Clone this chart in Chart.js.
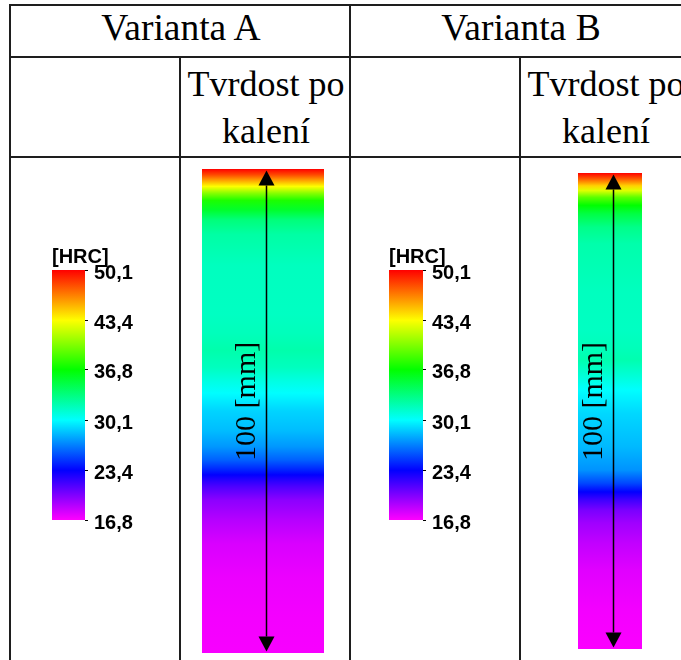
<!DOCTYPE html>
<html>
<head>
<meta charset="utf-8">
<script src="https://cdn.jsdelivr.net/npm/chart.js@4.4.1/dist/chart.umd.min.js"></script>
<style>
  html, body { margin: 0; padding: 0; background: #fff; }
  body { width: 681px; height: 660px; position: relative; overflow: hidden; }
  .ln { position: absolute; background: #1e1e1e; }
  .tx { position: absolute; width: 400px; text-align: center; white-space: nowrap;
        font: 36px "Liberation Serif", "Times New Roman", serif; line-height: 36px; color: #000; }
  .tx.big { font-size: 37.5px; }
  canvas { position: absolute; }
</style>
</head>
<body>
  <!-- table rules -->
  <div class="ln" style="left:9px;top:4px;width:672px;height:2px"></div>
  <div class="ln" style="left:9px;top:56px;width:672px;height:2px"></div>
  <div class="ln" style="left:9px;top:156px;width:672px;height:2px"></div>
  <div class="ln" style="left:9px;top:4px;width:2px;height:656px"></div>
  <div class="ln" style="left:179px;top:56px;width:2px;height:604px"></div>
  <div class="ln" style="left:349px;top:4px;width:2px;height:656px"></div>
  <div class="ln" style="left:519px;top:56px;width:2px;height:604px"></div>

  <!-- table headings -->
  <div class="tx big" style="left:-19px;top:10px">Varianta A</div>
  <div class="tx big" style="left:321px;top:10px">Varianta B</div>
  <div class="tx" style="left:66px;top:66px">Tvrdost po</div>
  <div class="tx" style="left:66px;top:113px">kalení</div>
  <div class="tx" style="left:406px;top:66px">Tvrdost po</div>
  <div class="tx" style="left:406px;top:113px">kalení</div>

  <canvas id="scaleA" width="110" height="304" style="left:40px;top:236px"></canvas>
  <canvas id="profileA" width="150" height="500" style="left:190px;top:160px"></canvas>
  <canvas id="scaleB" width="110" height="304" style="left:378px;top:236px"></canvas>
  <canvas id="profileB" width="121" height="500" style="left:560px;top:160px"></canvas>

<script>
// Hardness colour scale (HRC): tick values and their printed labels
const scaleTicks  = [16.8, 23.4, 30.1, 36.8, 43.4, 50.1];
const scaleLabels = ['16,8', '23,4', '30,1', '36,8', '43,4', '50,1'];
const scaleTitle  = '[HRC]';

// Hardness after quenching along the part length (mm from the top face), variant A
const depthA = [0, 1.2, 2.4, 3.6, 5, 6.5, 8.5, 10.5, 13.5, 20, 30, 34, 37.5, 41, 44, 46.3,
                50, 54, 57.4, 60.1, 62, 63.2, 64.5, 65.7, 68.4, 72.6, 77.4, 84.3, 92, 100];
const hrcA   = [50.1, 48.2, 45.8, 43.4, 40.3, 37.5, 35.6, 33.6, 32.5, 31.8, 31.7, 31.9, 32.3, 31.8, 30.8, 30.1,
                29.0, 28.4, 27.4, 26.0, 24.5, 23.4, 22.3, 21.4, 19.8, 18.7, 17.8, 17.3, 17.1, 17.0];

// Variant B
const depthB = [0, 1.3, 2.7, 3.7, 5.1, 6.8, 8.6, 11.4, 14.9, 25, 33, 36.5, 39.3, 42.8, 45.6,
                50.5, 57.5, 62.4, 65.2, 67, 68.6, 70.8, 73.5, 77.8, 83.4, 91.8, 100];
const hrcB   = [50.1, 47.6, 44.6, 42.6, 39.2, 36.8, 35.0, 33.2, 32.3, 31.8, 31.7, 31.9, 32.2, 31.1, 30.1,
                29.1, 28.3, 27.3, 25.3, 23.4, 21.9, 20.3, 19.3, 18.4, 17.6, 17.1, 16.9];

const lengthMm    = 100;
const lengthLabel = '100 [mm]';

const HMIN = scaleTicks[0];
const HMAX = scaleTicks[scaleTicks.length - 1];

// rainbow map: magenta (soft) -> blue -> cyan -> green -> yellow -> red (hard)
function hrcColor(v) {
  const t = Math.min(1, Math.max(0, (v - HMIN) / (HMAX - HMIN)));
  return `hsl(${(300 * (1 - t)).toFixed(2)},100%,50%)`;
}

function verticalFill(stopValues, stopColors, from, to) {
  return (ctx) => {
    const chart = ctx.chart;
    if (!chart.chartArea) return stopColors[0];
    const y = chart.scales.y;
    const y0 = y.getPixelForValue(from), y1 = y.getPixelForValue(to);
    const g = chart.ctx.createLinearGradient(0, y0, 0, y1);
    stopValues.forEach((v, i) => {
      const f = (y.getPixelForValue(v) - y0) / (y1 - y0);
      g.addColorStop(Math.min(1, Math.max(0, f)), stopColors[i]);
    });
    return g;
  };
}

// double-headed dimension arrow with its length label
const dimensionArrow = {
  id: 'dimensionArrow',
  afterDatasetsDraw(chart) {
    const { ctx, scales: { y } } = chart;
    const bar = chart.getDatasetMeta(0).data[0];
    const x = bar.x + 3.5;
    const top = y.getPixelForValue(0) + 1.5;
    const bot = y.getPixelForValue(lengthMm) - 1.5;
    const hw = 8, hl = 15;
    ctx.save();
    ctx.strokeStyle = '#000';
    ctx.fillStyle = '#000';
    ctx.lineWidth = 1.5;
    ctx.beginPath(); ctx.moveTo(x, top + hl); ctx.lineTo(x, bot - hl); ctx.stroke();
    ctx.beginPath(); ctx.moveTo(x, top); ctx.lineTo(x - hw, top + hl); ctx.lineTo(x + hw, top + hl); ctx.closePath(); ctx.fill();
    ctx.beginPath(); ctx.moveTo(x, bot); ctx.lineTo(x - hw, bot - hl); ctx.lineTo(x + hw, bot - hl); ctx.closePath(); ctx.fill();
    ctx.translate(x - 12, y.getPixelForValue(48));
    ctx.rotate(-Math.PI / 2);
    ctx.font = '30px "Liberation Serif", "Times New Roman", serif';
    ctx.textAlign = 'center';
    ctx.textBaseline = 'alphabetic';
    ctx.fillText(lengthLabel, 0, 0);
    ctx.restore();
  }
};

// unit caption above the colour bar
const scaleCaption = {
  id: 'scaleCaption',
  afterDraw(chart) {
    const { ctx, chartArea } = chart;
    ctx.save();
    ctx.font = 'bold 20px "Liberation Sans", Arial, sans-serif';
    ctx.fillStyle = '#000';
    ctx.textAlign = 'left';
    ctx.textBaseline = 'alphabetic';
    ctx.fillText(scaleTitle, chartArea.left, chartArea.top - 7);
    ctx.restore();
  }
};

const common = {
  responsive: false,
  animation: false,
  events: [],
  plugins: { legend: { display: false }, tooltip: { enabled: false } }
};

function profileChart(id, depths, values, pad) {
  return new Chart(document.getElementById(id), {
    type: 'bar',
    data: {
      labels: [''],
      datasets: [{
        data: [[0, lengthMm]],
        backgroundColor: verticalFill(depths, values.map(hrcColor), 0, lengthMm),
        borderWidth: 0,
        barPercentage: 1,
        categoryPercentage: 1
      }]
    },
    options: {
      ...common,
      layout: { padding: pad },
      scales: {
        x: { display: false },
        y: { display: false, min: 0, max: lengthMm, reverse: true }
      }
    },
    plugins: [dimensionArrow]
  });
}

function scaleChart(id, pad) {
  return new Chart(document.getElementById(id), {
    type: 'bar',
    data: {
      labels: [''],
      datasets: [{
        data: [[HMIN, HMAX]],
        backgroundColor: verticalFill(scaleTicks, scaleTicks.map(hrcColor), HMIN, HMAX),
        borderWidth: 0,
        barPercentage: 1,
        categoryPercentage: 1
      }]
    },
    options: {
      ...common,
      layout: { padding: pad },
      scales: {
        x: { display: false },
        y: {
          position: 'right',
          min: HMIN,
          max: HMAX,
          afterBuildTicks: (s) => { s.ticks = scaleTicks.map(v => ({ value: v })); },
          afterFit: (s) => { s.width = 65; },
          border: { display: false },
          grid: { drawOnChartArea: false, drawTicks: true, tickLength: 3, color: '#000', tickColor: '#000', lineWidth: 1 },
          ticks: {
            autoSkip: false,
            color: '#000',
            padding: 6,
            labelOffset: 3,
            font: { family: '"Liberation Sans", Arial, sans-serif', size: 20, weight: 'bold' },
            callback: (v, i) => scaleLabels[i]
          }
        }
      }
    },
    plugins: [scaleCaption]
  });
}

scaleChart('scaleA', { left: 12, top: 34, bottom: 20, right: 0 });
scaleChart('scaleB', { left: 11, top: 34, bottom: 20, right: 0 });
profileChart('profileA', depthA, hrcA, { left: 12, right: 16, top: 9, bottom: 7 });
profileChart('profileB', depthB, hrcB, { left: 18, right: 39, top: 13, bottom: 11 });
</script>
</body>
</html>
